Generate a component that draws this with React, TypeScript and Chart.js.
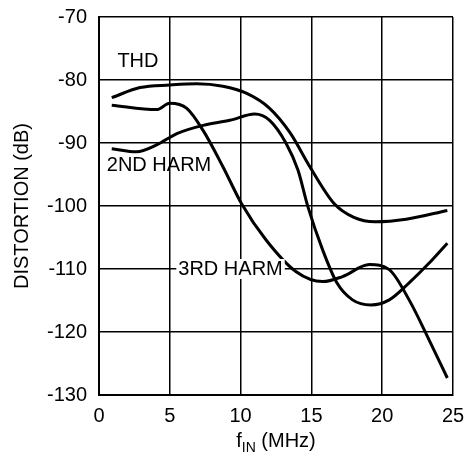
import React, { useEffect, useRef } from "react";
import { Chart, registerables } from "chart.js";

Chart.register(...registerables);

const thdX = [0.9, 2.9, 5, 6.9, 8.75, 10.4, 12.05, 13.5, 14.9, 16.6, 18.0, 19.5, 21.7, 24.6];
const thdY = [-82.8, -81.2, -80.8, -80.6, -81.0, -82.1, -84.5, -88.4, -93.8, -99.6, -101.8, -102.5, -102.1, -100.7];

const h3X = [0.9, 4.07, 5, 6.2, 7.35, 8.76, 10.06, 11.8, 13.9, 15.8, 17.2, 19.1, 20.5, 21.9, 23.3, 24.6];
const h3Y = [-84.0, -84.7, -83.7, -84.5, -88, -93.8, -99.6, -105.4, -110.4, -112, -111.2, -109.3, -110.1, -114.9, -121.2, -127.3];

const h2X = [0.9, 2.65, 4.07, 5.5, 7.35, 9.24, 11, 12.05, 13.2, 14.05, 14.75, 15.8, 16.8, 17.9, 19.2, 20.5, 21.9, 23.3, 24.6];
const h2Y = [-90.9, -91.4, -90.3, -88.5, -87.2, -86.4, -85.4, -86.4, -90, -94.3, -100.1, -107, -112.2, -114.9, -115.7, -114.9, -112.2, -109.1, -105.9];

const xTicks = [0, 5, 10, 15, 20, 25];
const yTicks = [-70, -80, -90, -100, -110, -120, -130];

const labelTexts = ["THD", "2ND HARM", "3RD HARM"];
const labelX = [1.3, 0.55, 5.6];
const labelY = [-77.1, -93.5, -110];

const FONT = "'Liberation Sans', Arial, sans-serif";

function pts(xs: number[], ys: number[]) {
  return xs.map((x, i) => ({ x, y: ys[i] }));
}

export default function App() {
  const ref = useRef<HTMLCanvasElement | null>(null);
  useEffect(() => {
    document.body.style.margin = "0";
    const canvas = ref.current!;
    const annot = {
      id: "annot",
      afterDatasetsDraw(chart: any) {
        const { ctx, scales } = chart;
        const xs = scales.x;
        const ys = scales.y;
        ctx.save();
        ctx.font = `20px ${FONT}`;
        ctx.textBaseline = "middle";
        ctx.textAlign = "left";
        labelTexts.forEach((t, i) => {
          const px = xs.getPixelForValue(labelX[i]);
          const py = ys.getPixelForValue(labelY[i]);
          const w = ctx.measureText(t).width;
          if (i === 2) {
            ctx.fillStyle = "#fff";
            ctx.fillRect(px - 2, py - 10, w + 4, 20);
          }
          ctx.fillStyle = "#000";
          ctx.fillText(t, px, py);
        });
        // x axis title with subscript
        const cx = (chart.chartArea.left + chart.chartArea.right) / 2;
        const ty = 447;
        const p1 = "f";
        const p3 = " (MHz)";
        ctx.font = `20px ${FONT}`;
        const w1 = ctx.measureText(p1).width;
        const w3 = ctx.measureText(p3).width;
        ctx.font = `14px ${FONT}`;
        const w2 = ctx.measureText("IN").width;
        const x0 = cx - (w1 + w2 + w3) / 2;
        ctx.fillStyle = "#000";
        ctx.textBaseline = "alphabetic";
        ctx.font = `20px ${FONT}`;
        ctx.fillText(p1, x0, ty);
        ctx.font = `14px ${FONT}`;
        ctx.fillText("IN", x0 + w1, ty + 5);
        ctx.font = `20px ${FONT}`;
        ctx.fillText(p3, x0 + w1 + w2, ty);
        ctx.restore();
      },
    };
    const ds = (xs: number[], ys: number[], label: string) => ({
      label,
      data: pts(xs, ys),
      borderColor: "#000",
      borderWidth: 3,
      pointRadius: 0,
      cubicInterpolationMode: "monotone",
      fill: false,
    });
    const chart = new Chart(canvas, {
      type: "line",
      data: {
        datasets: [ds(thdX, thdY, "THD"), ds(h3X, h3Y, "3RD HARM"), ds(h2X, h2Y, "2ND HARM")],
      },
      options: {
        animation: false,
        responsive: false,
        layout: { padding: { top: 17, right: 16, left: 0, bottom: 0 } },
        plugins: { legend: { display: false }, tooltip: { enabled: false } },
        scales: {
          x: {
            type: "linear",
            min: 0,
            max: 25,
            afterFit: (s: any) => {
              s.height = 68;
              s.paddingLeft = 0;
              s.paddingRight = 0;
            },
            afterBuildTicks: (s: any) => {
              s.ticks = xTicks.map((v) => ({ value: v }));
            },
            grid: { color: "#000", lineWidth: 1.5, drawTicks: false },
            border: { color: "#000", width: 2 },
            ticks: { color: "#000", font: { family: FONT, size: 20 }, padding: 9, maxRotation: 0 },
          },
          y: {
            type: "linear",
            min: -130,
            max: -70,
            afterFit: (s: any) => {
              s.width = 99;
              s.paddingTop = 0;
              s.paddingBottom = 0;
            },
            afterBuildTicks: (s: any) => {
              s.ticks = yTicks.map((v) => ({ value: v }));
            },
            grid: { color: "#000", lineWidth: 1.5, drawTicks: false },
            border: { color: "#000", width: 2 },
            ticks: { color: "#000", font: { family: FONT, size: 20 }, padding: 12 },
            title: {
              display: true,
              text: "DISTORTION (dB)",
              color: "#000",
              font: { family: FONT, size: 20 },
              padding: { top: 10, bottom: 0 },
            },
          },
        },
      },
      plugins: [annot],
    } as any);
    return () => chart.destroy();
  }, []);
  return (
    <div style={{ width: 469, height: 463, background: "#fff" }}>
      <canvas ref={ref} width={469} height={463} style={{ display: "block" }} />
    </div>
  );
}
